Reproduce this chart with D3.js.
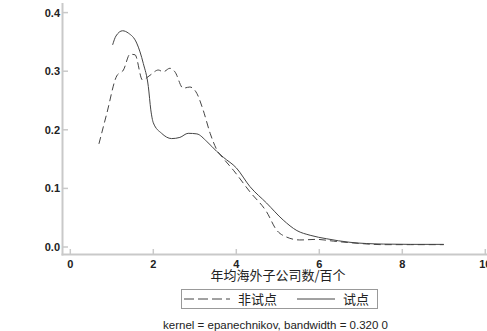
<!DOCTYPE html>
<html><head><meta charset="utf-8">
<script src="https://cdn.jsdelivr.net/npm/d3@7"></script>
<style>body{margin:0;background:#fff;} svg{display:block;}</style>
</head><body>
<svg id="c" width="487" height="331"></svg>
<script>
// Data
const pilotX = [1.02,1.1,1.26,1.4,1.6,1.76,1.88,1.94,2.0,2.2,2.44,2.64,2.84,3.05,3.29,3.53,3.69,4.0,4.33,4.73,5.13,5.46,5.78,6.18,6.74,7.54,8.2,9.0];
const pilotY = [0.345,0.36,0.369,0.365,0.348,0.313,0.274,0.234,0.212,0.194,0.185,0.187,0.194,0.193,0.180,0.163,0.153,0.135,0.103,0.075,0.046,0.028,0.020,0.014,0.008,0.005,0.0045,0.0045];
const nonPilotX = [0.69,0.88,1.12,1.28,1.44,1.56,1.74,1.92,2.12,2.24,2.40,2.52,2.72,2.88,3.05,3.2,3.37,3.53,3.69,3.93,4.33,4.73,4.97,5.21,5.53,5.94,6.34,6.98,7.54,8.2,9.0];
const nonPilotY = [0.176,0.228,0.292,0.302,0.329,0.328,0.285,0.293,0.302,0.299,0.305,0.299,0.271,0.273,0.262,0.234,0.194,0.166,0.151,0.131,0.094,0.060,0.029,0.017,0.012,0.013,0.010,0.006,0.004,0.004,0.004];
const xTicks = [0,2,4,6,8,10];
const yTicks = [0,0.1,0.2,0.3,0.4];
const yTickLabels = ["0.0","0.1","0.2","0.3","0.4"];
const xTitle = "年均海外子公司数/百个";
const legendLabels = ["非试点","试点"];
const note = "kernel = epanechnikov, bandwidth = 0.320 0";

const svg = d3.select("#c");
const x = d3.scaleLinear().domain([0,10]).range([70.3,485.3]);
const y = d3.scaleLinear().domain([0,0.4]).range([247,12.6]);
const axisColor = "#c9c9c9";
const lineColor = "#444";
const numFont = "'Liberation Sans', Arial, sans-serif";
const cjkFont = "'Noto Sans CJK SC', sans-serif";

// Axis lines
svg.append("line").attr("x1",62.5).attr("x2",62.5).attr("y1",3).attr("y2",255.5)
  .attr("stroke",axisColor).attr("stroke-width",2);
svg.append("line").attr("x1",61.5).attr("x2",487).attr("y1",254.5).attr("y2",254.5)
  .attr("stroke",axisColor).attr("stroke-width",2);

// Y ticks
const yg = svg.append("g");
yTicks.forEach((t,i)=>{
  yg.append("line").attr("x1",63).attr("x2",68).attr("y1",y(t)).attr("y2",y(t))
    .attr("stroke",axisColor).attr("stroke-width",1.5);
  yg.append("text").attr("x",60).attr("y",y(t)+4).attr("text-anchor","end")
    .attr("font-family",numFont).attr("font-size",11).attr("font-weight","bold")
    .attr("fill","#222").text(yTickLabels[i]);
});
// X ticks
const xg = svg.append("g");
xTicks.forEach(t=>{
  xg.append("line").attr("x1",x(t)).attr("x2",x(t)).attr("y1",249).attr("y2",254)
    .attr("stroke",axisColor).attr("stroke-width",1.5);
  xg.append("text").attr("x",x(t)).attr("y",268).attr("text-anchor","middle")
    .attr("font-family",numFont).attr("font-size",11).attr("font-weight","bold")
    .attr("fill","#222").text(t);
});

// Lines
const line = d3.line().x(d=>x(d[0])).y(d=>y(d[1])).curve(d3.curveMonotoneX);
const pilot = pilotX.map((v,i)=>[v,pilotY[i]]);
const nonPilot = nonPilotX.map((v,i)=>[v,nonPilotY[i]]);
svg.append("path").attr("d",line(nonPilot)).attr("fill","none").attr("stroke",lineColor)
  .attr("stroke-width",1).attr("stroke-dasharray","7,4");
svg.append("path").attr("d",line(pilot)).attr("fill","none").attr("stroke",lineColor)
  .attr("stroke-width",1);

// Axis title
svg.append("text").attr("x",278).attr("y",279.5).attr("text-anchor","middle")
  .attr("font-family",cjkFont).attr("font-size",13).attr("fill","#222").text(xTitle);

// Legend
const lg = svg.append("g");
lg.append("rect").attr("x",181.5).attr("y",289.5).attr("width",196).attr("height",19)
  .attr("fill","#fff").attr("stroke","#999").attr("stroke-width",1);
lg.append("line").attr("x1",184).attr("x2",230).attr("y1",299).attr("y2",299)
  .attr("stroke",lineColor).attr("stroke-width",1).attr("stroke-dasharray","10,4");
lg.append("text").attr("x",238).attr("y",304).attr("font-family",cjkFont)
  .attr("font-size",13).attr("fill","#222").text(legendLabels[0]);
lg.append("line").attr("x1",297).attr("x2",335).attr("y1",299).attr("y2",299)
  .attr("stroke",lineColor).attr("stroke-width",1);
lg.append("text").attr("x",343).attr("y",304).attr("font-family",cjkFont)
  .attr("font-size",13).attr("fill","#222").text(legendLabels[1]);

// Note
svg.append("text").attr("x",275.5).attr("y",328.5).attr("text-anchor","middle")
  .attr("font-family",numFont).attr("font-size",11.5).attr("fill","#222").text(note);
</script>
</body></html>
